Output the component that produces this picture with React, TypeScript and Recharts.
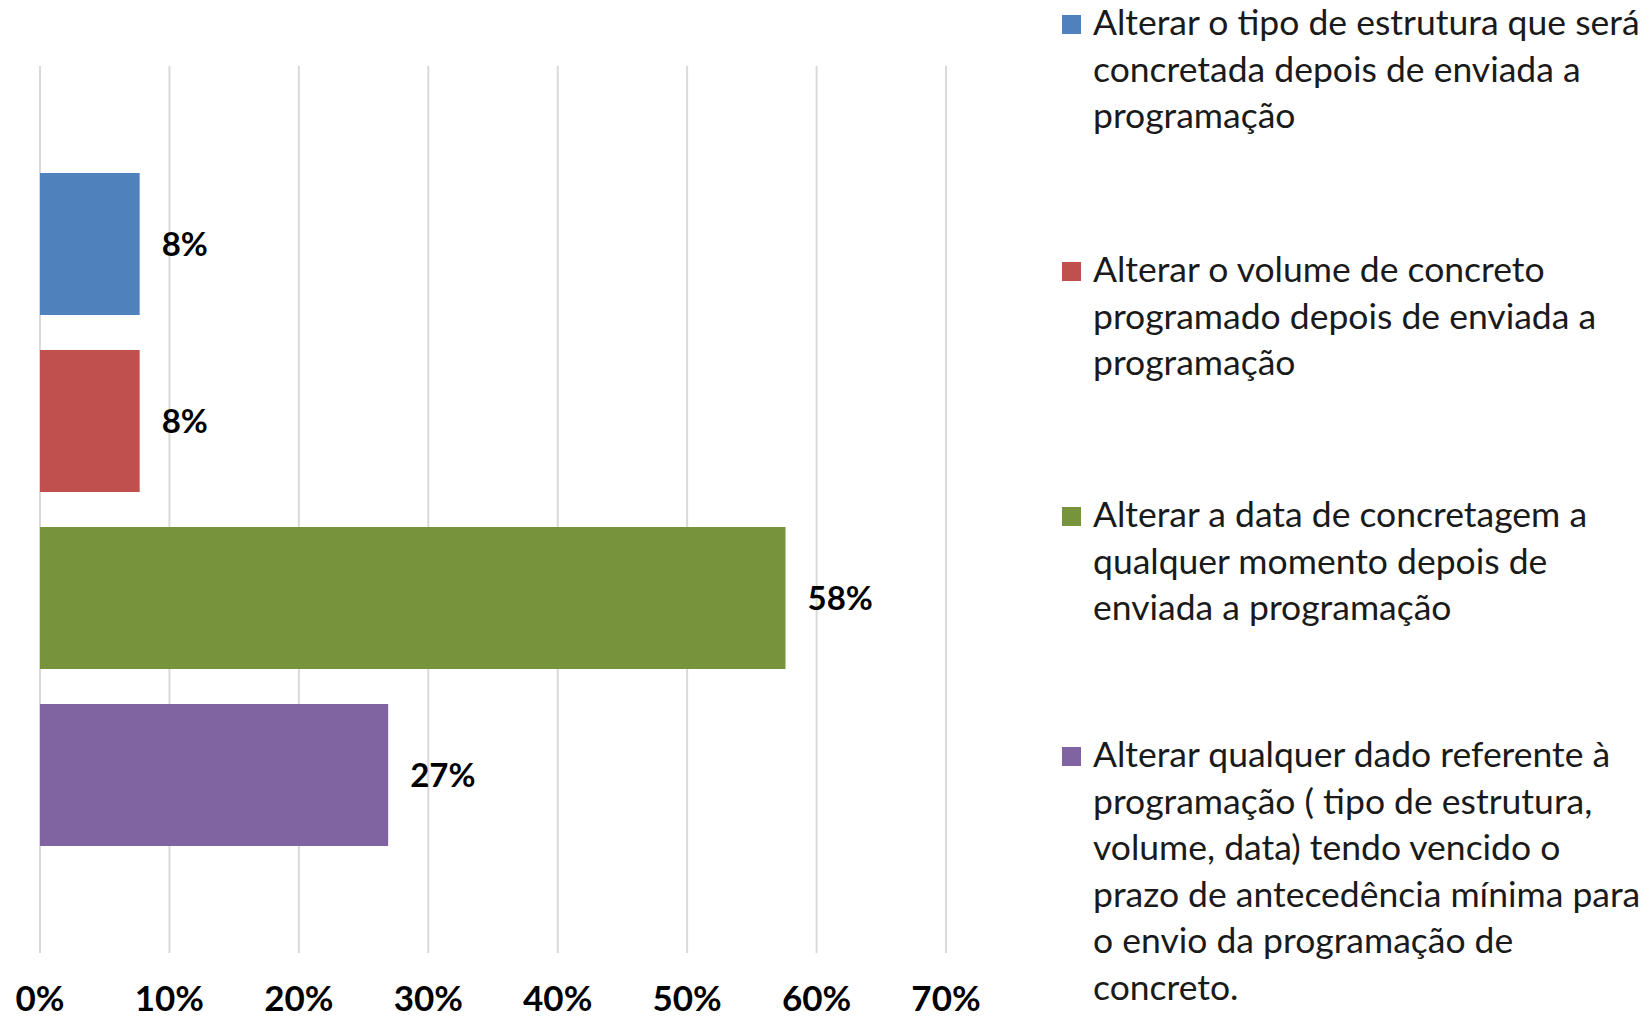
import { BarChart, Bar, XAxis, YAxis, CartesianGrid, LabelList, Legend } from 'recharts';

// one category, four series (Excel-style clustered bar)
const seriesKeys = ['s1', 's2', 's3', 's4'];
const seriesValues = [0.077, 0.077, 0.576, 0.269];
const seriesColors = ['#4f81bd', '#c0504d', '#77933c', '#8064a2'];
const seriesLabels = [
  ['Alterar o tipo de estrutura que será', 'concretada depois de enviada a', 'programação'],
  ['Alterar o volume de concreto', 'programado depois de enviada a', 'programação'],
  ['Alterar a data de concretagem a', 'qualquer momento depois de', 'enviada a programação'],
  [
    'Alterar qualquer dado referente à',
    'programação ( tipo de estrutura,',
    'volume, data) tendo vencido o',
    'prazo de antecedência mínima para',
    'o envio da programação de',
    'concreto.',
  ],
];
const xTicks = [0, 0.1, 0.2, 0.3, 0.4, 0.5, 0.6, 0.7];

const row: Record<string, number | string> = { name: 'all' };
seriesKeys.forEach((k, i) => {
  row[k] = seriesValues[i];
});
const data = [row];

const FONT = 'Lato, "Open Sans", sans-serif';
const legendTops = [-1, 246, 491, 731];

const pct = (v: number) => `${Math.round(v * 100)}%`;

const XTick = ({ x, y, payload }: any) => (
  <text x={x} y={y + 50} textAnchor="middle" fontFamily={FONT} fontWeight={700} fontSize={35} fill="#000">
    {pct(payload.value)}
  </text>
);

const LegendBox = () => (
  <div style={{ position: 'relative', width: 590, height: 1019, fontFamily: FONT, fontSize: 35.5, color: '#1a1a1a' }}>
    {seriesLabels.map((lines, i) => (
      <div key={i} style={{ position: 'absolute', left: 0, top: legendTops[i], lineHeight: '46.5px' }}>
        <span
          style={{
            position: 'absolute',
            left: 0,
            top: 16,
            width: 19,
            height: 19,
            background: seriesColors[i],
          }}
        />
        <div style={{ marginLeft: 31, whiteSpace: 'nowrap' }}>
          {lines.map((l, j) => (
            <div key={j}>{l}</div>
          ))}
        </div>
      </div>
    ))}
  </div>
);

export default function App() {
  return (
    <div style={{ position: 'absolute', left: 0, top: 0, background: '#fff' }}>
      <BarChart
        width={1652}
        height={1019}
        data={data}
        layout="vertical"
        margin={{ top: 66, right: 706, bottom: 0, left: 40 }}
        barGap={35}
      >
        <CartesianGrid horizontal={false} stroke="#d9d9d9" strokeWidth={2} />
        <XAxis
          type="number"
          domain={[0, 0.7]}
          ticks={xTicks}
          interval={0}
          axisLine={false}
          tickLine={false}
          height={66}
          tick={<XTick />}
        />
        <YAxis type="category" dataKey="name" hide />
        <Legend
          layout="horizontal"
          verticalAlign="middle"
          align="center"
          wrapperStyle={{ left: 1062, top: 0, width: 590, height: 1019 }}
          content={() => <LegendBox />}
        />
        {seriesKeys.map((k, i) => (
          <Bar key={k} dataKey={k} fill={seriesColors[i]} barSize={142} isAnimationActive={false}>
            <LabelList
              dataKey={k}
              position="right"
              offset={22}
              formatter={(v: any) => pct(Number(v))}
              fill="#000"
              fontFamily={FONT}
              fontWeight={700}
              fontSize={33}
            />
          </Bar>
        ))}
      </BarChart>
    </div>
  );
}
